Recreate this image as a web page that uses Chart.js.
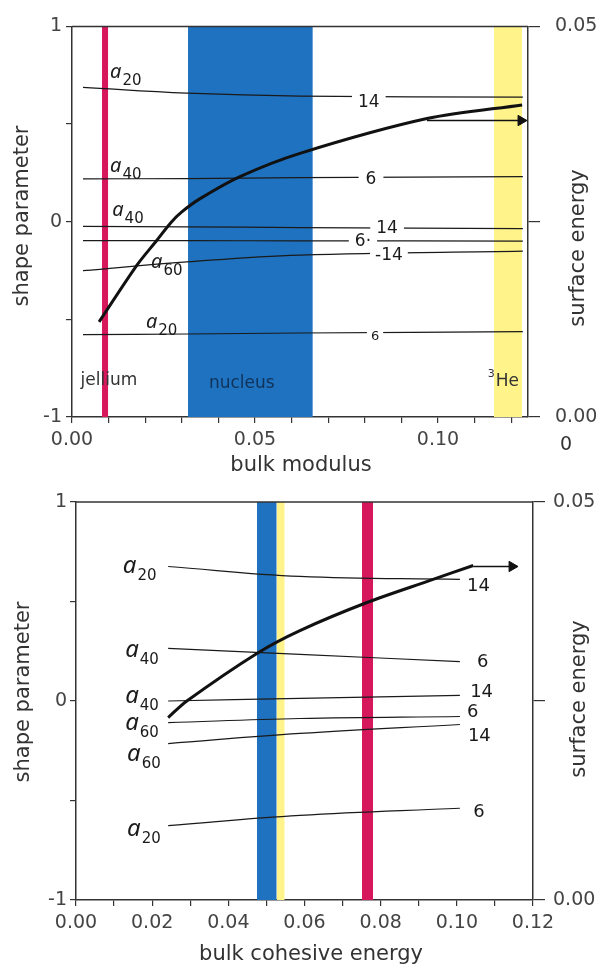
<!DOCTYPE html>
<html lang="en">
<head>
<meta charset="UTF-8">
<title>Shape parameter vs bulk modulus and bulk cohesive energy</title>
<script src="https://cdn.jsdelivr.net/npm/chart.js"></script>
<style>
  body { margin: 0; background: #fff; }
  #wrap { position: relative; width: 603px; height: 969px; }
  canvas { position: absolute; left: 0; }
  #topChart { top: 0; }
  #bottomChart { top: 480px; }
</style>
</head>
<body>
<div id="wrap">
  <canvas id="topChart" width="603" height="480"></canvas>
  <canvas id="bottomChart" width="603" height="489"></canvas>
</div>
<script>
// ---------- upper panel: bulk modulus ----------
const topBandJellium = [0.0082, 0.0099];
const topBandNucleus = [0.0317, 0.0658];
const topBandHe3 = [0.1153, 0.1230];

const topCurveX = [0.0074, 0.0178, 0.0232, 0.0270, 0.0300, 0.0350, 0.0459, 0.0623, 0.0970, 0.1230];
const topCurveY = [-0.513, -0.221, -0.095, -0.005, 0.050, 0.118, 0.231, 0.350, 0.528, 0.598];
const topArrowX = [0.0970, 0.1227];
const topArrowY = [0.518, 0.518];

const topLineX = [0.0030, 0.0314, 0.0623, 0.1232];
const topA20n14 = [0.688, 0.658, 0.643, 0.638];
const topA40n6 = [0.219, 0.221, 0.226, 0.231];
const topA40n14 = [-0.024, -0.026, -0.030, -0.035];
const topA60n6 = [-0.097, -0.097, -0.098, -0.099];
const topA60n14 = [-0.251, -0.206, -0.171, -0.151];
const topA20n6 = [-0.578, -0.575, -0.570, -0.563];

// ---------- lower panel: bulk cohesive energy ----------
const botBandNucleus = [0.0475, 0.0527];
const botBandHe3 = [0.0527, 0.0548];
const botBandJellium = [0.0751, 0.0780];

const botCurveX = [0.0242, 0.0291, 0.0475, 0.0588, 0.0764, 0.0930, 0.1043];
const botCurveY = [-0.083, 0.000, 0.239, 0.354, 0.495, 0.606, 0.681];
const botArrowX = [0.1043, 0.1145];
const botArrowY = [0.676, 0.676];

const botLineX = [0.0242, 0.0588, 0.1008];
const botA20n14 = [0.676, 0.626, 0.611];
const botA40n6 = [0.264, 0.234, 0.198];
const botA40n14 = [0.000, 0.013, 0.028];
const botA60n6 = [-0.109, -0.088, -0.078];
const botA60n14 = [-0.214, -0.163, -0.118];
const botA20n6 = [-0.626, -0.575, -0.539];

const shapeTicks = [-1, 0, 1];
const energyTicks = [0, 0.05];

const FONT = '"DejaVu Sans", sans-serif';
const RED = '#d6175c', BLUE = '#1f72bf', YELLOW = '#fff38a', INK = '#1a1a1a', AXIS = '#333';

function series(xs, ys) {
  return xs.map((x, i) => ({x: x, y: ys[i]}));
}
function band(range, color) {
  return {
    data: series(range, [1, 1]), showLine: true, fill: 'start',
    backgroundColor: color, borderColor: 'rgba(0,0,0,0)', borderWidth: 0,
    pointRadius: 0, order: 10
  };
}
function thin(xs, ys) {
  return { data: series(xs, ys), showLine: true, borderColor: INK, borderWidth: 1.2, pointRadius: 0, tension: 0.4, order: 2 };
}
function curve(xs, ys) {
  return {
    data: series(xs, ys), showLine: true, borderColor: '#111', borderWidth: 3,
    pointRadius: 0, tension: 0.3, order: 1
  };
}
function arrow(xs, ys) {
  return {
    data: series(xs, ys), showLine: true, borderColor: '#111', borderWidth: 1.5,
    pointRadius: [0, 6], pointStyle: 'triangle', pointRotation: 90,
    pointBackgroundColor: '#111', pointBorderColor: '#111', pointBorderWidth: 1, order: 1
  };
}
function near(v, list) {
  return list.some(t => Math.abs(v - t) < 1e-9);
}

// text labels drawn at data positions, axis titles at canvas positions
const notesPlugin = {
  id: 'notes',
  afterDatasetsDraw(chart, args, opts) {
    const {ctx, chartArea, scales} = chart;
    ctx.save();
    ctx.strokeStyle = AXIS;
    ctx.lineWidth = 1.5;
    ctx.beginPath();
    ctx.moveTo(chartArea.left, chartArea.top);
    ctx.lineTo(chartArea.right, chartArea.top);
    ctx.stroke();

    ctx.textAlign = 'left';
    (opts.items || []).forEach(n => {
      const px = scales.x.getPixelForValue(n.x);
      const py = scales.y.getPixelForValue(n.y);
      ctx.font = n.font;
      const w = ctx.measureText(n.text).width;
      const x0 = n.center ? px - w / 2 : px;
      if (n.gap) {
        // break the line under the label
        const gy = n.lineY !== undefined ? scales.y.getPixelForValue(n.lineY) : py;
        ctx.fillStyle = '#fff';
        ctx.fillRect(x0 - n.gap, gy - 4, w + 2 * n.gap, 8);
      }
      ctx.fillStyle = n.color || INK;
      ctx.textBaseline = n.middle ? 'middle' : 'alphabetic';
      ctx.fillText(n.text, x0, py);
      if (n.sub) {
        ctx.font = n.subFont;
        ctx.fillText(n.sub, x0 + w + 1, py + 7);
      }
      if (n.sup) {
        ctx.font = n.subFont;
        const sw = ctx.measureText(n.sup).width;
        ctx.fillText(n.sup, x0 - sw - 1, py - 8);
      }
    });

    ctx.fillStyle = AXIS;
    ctx.textAlign = 'center';
    ctx.textBaseline = 'middle';
    (opts.titles || []).forEach(t => {
      ctx.save();
      ctx.font = t.font || ('21px ' + FONT);
      ctx.translate(t.x, t.y);
      if (t.rot) ctx.rotate(t.rot * Math.PI / 180);
      ctx.fillText(t.text, 0, 0);
      ctx.restore();
    });
    ctx.restore();
  }
};

function buildScales(p) {
  const tickFont = { family: FONT, size: 19 };
  return {
    x: {
      type: 'linear', min: 0, max: p.xMax, z: 1,
      ticks: {
        stepSize: 0.01, includeBounds: false, autoSkip: false, maxRotation: 0,
        font: tickFont, color: '#444', padding: 6,
        callback: v => near(v, p.xLabels) ? v.toFixed(2) : ''
      },
      grid: { drawOnChartArea: false, tickLength: 6, color: AXIS, lineWidth: 1.2 },
      border: { color: AXIS, width: 1.5 },
      afterFit: s => { s.height = p.xHeight; }
    },
    y: {
      type: 'linear', position: 'left', min: -1, max: 1, z: 1,
      ticks: {
        stepSize: 0.5, font: tickFont, color: '#444', padding: p.yPad,
        callback: v => near(v, shapeTicks) ? String(v) : ''
      },
      grid: { drawOnChartArea: false, tickLength: 6, color: AXIS, lineWidth: 1.2 },
      border: { color: AXIS, width: 1.5 },
      afterFit: s => { s.width = p.left; }
    },
    y2: {
      type: 'linear', position: 'right', min: 0, max: 0.05, z: 1,
      ticks: {
        stepSize: 0.025, font: tickFont, color: '#444', padding: p.y2Pad,
        callback: v => near(v, energyTicks) ? v.toFixed(2) : ''
      },
      grid: { drawOnChartArea: false, tickLength: 12, color: AXIS, lineWidth: 1.2 },
      border: { color: AXIS, width: 1.5 },
      afterFit: s => { s.width = p.right; }
    }
  };
}

function makeChart(id, datasets, p, notes) {
  return new Chart(document.getElementById(id).getContext('2d'), {
    type: 'scatter',
    data: { datasets: datasets },
    plugins: [notesPlugin],
    options: {
      responsive: false,
      animation: false,
      events: [],
      layout: { padding: { top: p.top, left: 0, right: 0, bottom: 0 } },
      scales: buildScales(p),
      plugins: { legend: { display: false }, tooltip: { enabled: false }, notes: notes }
    }
  });
}

const aFontTop = 'italic 20px "Noto Sans", sans-serif';
const aFontBot = 'italic 24px "Noto Sans", sans-serif';
const subFont = '15px ' + FONT;

makeChart('topChart', [
  band(topBandJellium, RED),
  band(topBandNucleus, BLUE),
  band(topBandHe3, YELLOW),
  thin(topLineX, topA20n14),
  thin(topLineX, topA40n6),
  thin(topLineX, topA40n14),
  thin(topLineX, topA60n6),
  thin(topLineX, topA60n14),
  thin(topLineX, topA20n6),
  curve(topCurveX, topCurveY),
  arrow(topArrowX, topArrowY)
], { xMax: 0.1246, xLabels: [0, 0.05, 0.10], top: 19, left: 72, right: 75, xHeight: 63, yPad: 4, y2Pad: 15 }, {
  items: [
    { x: 0.0104, y: 0.734, text: 'a', sub: '20', font: aFontTop, subFont: subFont },
    { x: 0.0104, y: 0.256, text: 'a', sub: '40', font: aFontTop, subFont: subFont },
    { x: 0.0110, y: 0.030, text: 'a', sub: '40', font: aFontTop, subFont: subFont },
    { x: 0.0216, y: -0.236, text: 'a', sub: '60', font: aFontTop, subFont: subFont },
    { x: 0.0202, y: -0.543, text: 'a', sub: '20', font: aFontTop, subFont: subFont },
    { x: 0.0811, y: 0.612, lineY: 0.640, text: '14', font: '17px ' + FONT, center: true, middle: true, gap: 6 },
    { x: 0.0817, y: 0.216, text: '6', font: '17px ' + FONT, center: true, middle: true, gap: 7 },
    { x: 0.0861, y: -0.035, text: '14', font: '17px ' + FONT, center: true, middle: true, gap: 6 },
    { x: 0.0795, y: -0.100, text: '6·', font: '17px ' + FONT, center: true, middle: true, gap: 6 },
    { x: 0.0866, y: -0.171, lineY: -0.164, text: '-14', font: '17px ' + FONT, center: true, middle: true, gap: 5 },
    { x: 0.0828, y: -0.588, lineY: -0.567, text: '6', font: '13px ' + FONT, center: true, middle: true, gap: 4 },
    { x: 0.0101, y: -0.814, text: 'jellium', font: '17px ' + FONT, center: true, middle: true, color: '#333' },
    { x: 0.0464, y: -0.829, text: 'nucleus', font: '17px ' + FONT, center: true, middle: true, color: '#10335a' },
    { x: 0.1158, y: -0.820, text: 'He', sup: '3', font: '17px ' + FONT, subFont: '11px ' + FONT, middle: true, color: '#333' }
  ],
  titles: [
    { text: 'shape parameter', x: 23, y: 216, rot: -90 },
    { text: 'surface energy', x: 579, y: 248, rot: -90 },
    { text: 'bulk modulus', x: 301, y: 466 },
    { text: '0', x: 566, y: 445, font: '19px ' + FONT }
  ]
});

makeChart('bottomChart', [
  band(botBandNucleus, BLUE),
  band(botBandHe3, YELLOW),
  band(botBandJellium, RED),
  thin(botLineX, botA20n14),
  thin(botLineX, botA40n6),
  thin(botLineX, botA40n14),
  thin(botLineX, botA60n6),
  thin(botLineX, botA60n14),
  thin(botLineX, botA20n6),
  curve(botCurveX, botCurveY),
  arrow(botArrowX, botArrowY)
], { xMax: 0.12, xLabels: [0, 0.02, 0.04, 0.06, 0.08, 0.10, 0.12], top: 22, left: 76, right: 70, xHeight: 69, yPad: 3, y2Pad: 8 }, {
  items: [
    { x: 0.0123, y: 0.641, text: 'a', sub: '20', font: aFontBot, subFont: subFont },
    { x: 0.0129, y: 0.219, text: 'a', sub: '40', font: aFontBot, subFont: subFont },
    { x: 0.0129, y: -0.008, text: 'a', sub: '40', font: aFontBot, subFont: subFont },
    { x: 0.0129, y: -0.148, text: 'a', sub: '60', font: aFontBot, subFont: subFont },
    { x: 0.0134, y: -0.299, text: 'a', sub: '60', font: aFontBot, subFont: subFont },
    { x: 0.0134, y: -0.676, text: 'a', sub: '20', font: aFontBot, subFont: subFont },
    { x: 0.1027, y: 0.575, text: '14', font: '18px ' + FONT, middle: true },
    { x: 0.1053, y: 0.193, text: '6', font: '18px ' + FONT, middle: true },
    { x: 0.1035, y: 0.043, text: '14', font: '18px ' + FONT, middle: true },
    { x: 0.1027, y: -0.058, text: '6', font: '18px ' + FONT, middle: true },
    { x: 0.1029, y: -0.178, text: '14', font: '18px ' + FONT, middle: true },
    { x: 0.1043, y: -0.560, text: '6', font: '18px ' + FONT, middle: true }
  ],
  titles: [
    { text: 'shape parameter', x: 24, y: 212, rot: -90 },
    { text: 'surface energy', x: 580, y: 219, rot: -90 },
    { text: 'bulk cohesive energy', x: 311, y: 475 }
  ]
});
</script>
</body>
</html>
